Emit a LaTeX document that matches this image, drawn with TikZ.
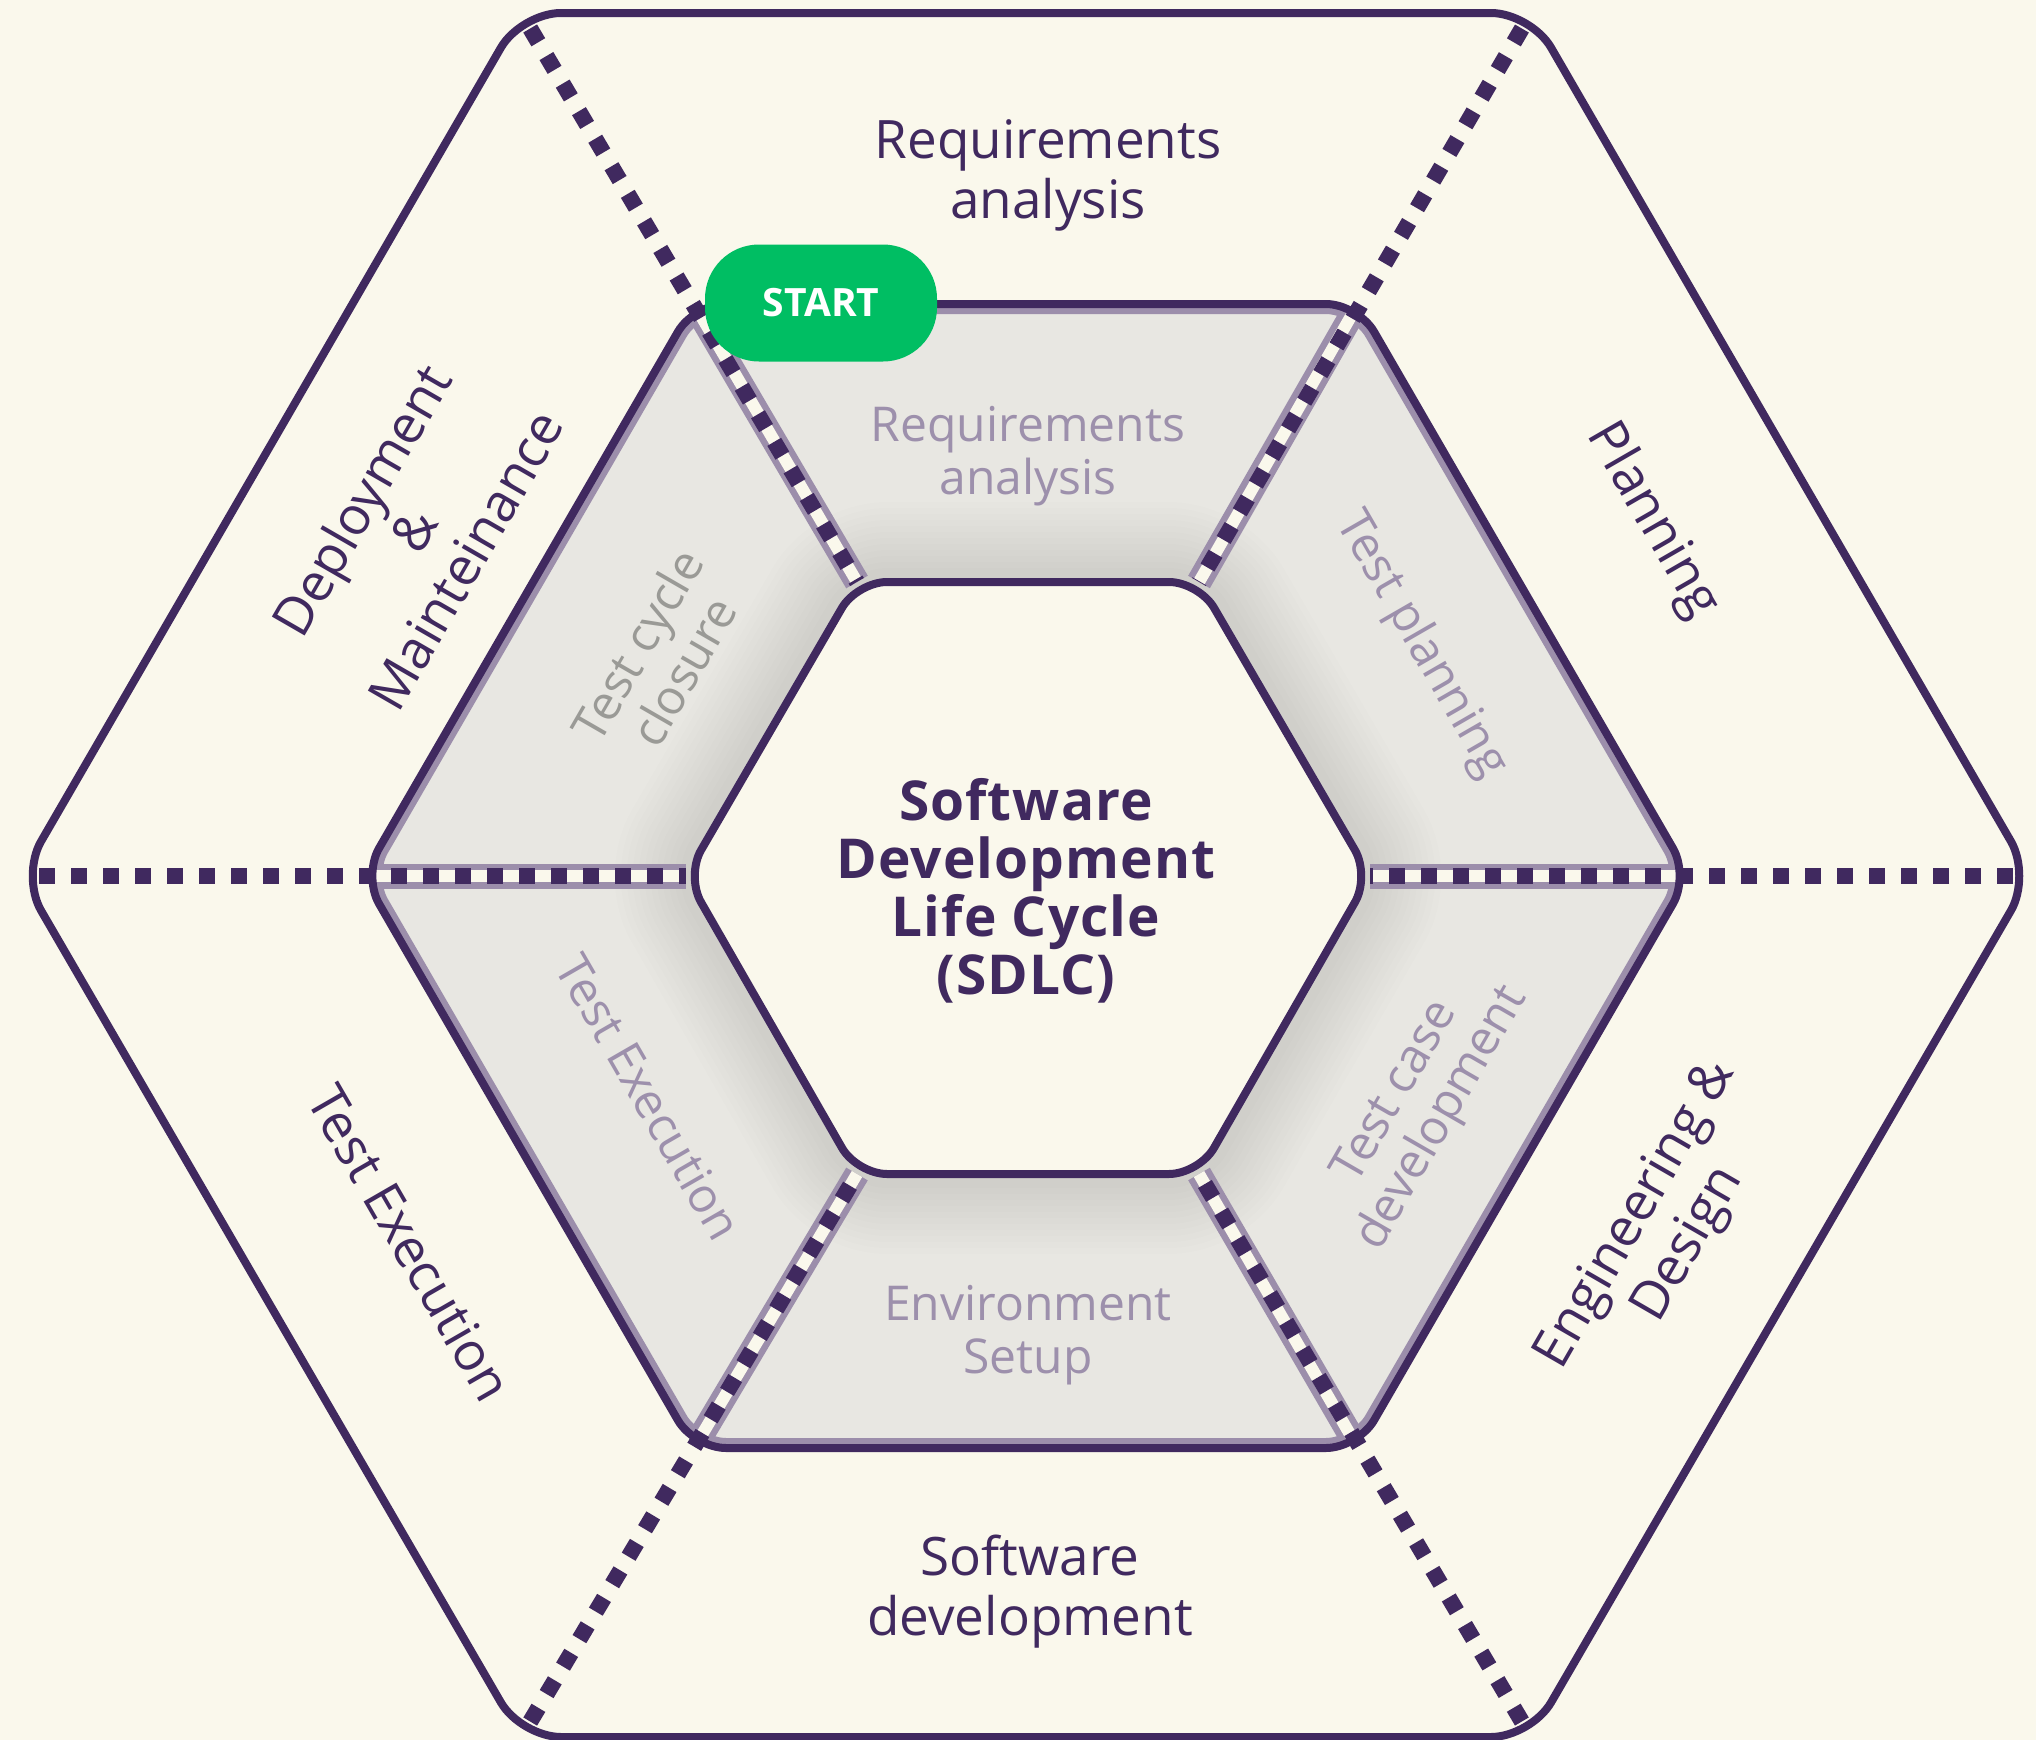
\documentclass[tikz,border=0pt]{standalone}
\usepackage{fontspec}
\setmainfont{Open Sans}
\usetikzlibrary{calc}

\definecolor{ink}{HTML}{40295F}
\definecolor{paper}{HTML}{FAF8EC}
\definecolor{tile}{HTML}{E8E7E2}
\definecolor{tileedge}{HTML}{9C8EAB}
\definecolor{tiletext}{HTML}{9D90AC}
\definecolor{greytext}{HTML}{9A9A96}
\definecolor{go}{HTML}{00BE63}

\begin{document}
\begin{tikzpicture}[x=0.5pt,y=-0.5pt,
  outerlab/.style={text=ink, align=center, inner sep=0pt, font=\fontsize{26.5}{30}\selectfont},
  tilelab/.style={text=tiletext, align=center, inner sep=0pt, font=\fontsize{24}{26.5}\selectfont},
  centerlab/.style={text=ink, align=center, inner sep=0pt, font=\bfseries\fontsize{27.5}{29}\selectfont\addfontfeature{LetterSpace=2}},
  spokeband/.style={draw=tileedge, line width=12.5pt},
  spokegap/.style={draw=paper, line width=6pt},
  spokedots/.style={draw=ink, line width=8pt, dash pattern=on 8pt off 8pt},
  hexedge/.style={draw=ink, line width=4pt},
  startpill/.style={fill=go, text=white, rounded corners=27pt, minimum width=116pt, minimum height=58.5pt, inner sep=0pt, font=\bfseries\fontsize{19.5}{21}\selectfont}
]
\fill[paper] (0,0) rectangle (2036,1740);
\useasboundingbox (0,0) rectangle (2036,1740);

% hexagon corners: outer ring, tile ring, core
\coordinate (O0) at (2031,876);
\coordinate (O1) at (1531,13);
\coordinate (O2) at (521,13);
\coordinate (O3) at (21,876);
\coordinate (O4) at (521,1737);
\coordinate (O5) at (1531,1737);
\coordinate (Om) at ($(O0)!0.5!(O1)$);

\coordinate (M0) at (1689,876);
\coordinate (M1) at (1358,304);
\coordinate (M2) at (694,304);
\coordinate (M3) at (363,876);
\coordinate (M4) at (694,1448);
\coordinate (M5) at (1358,1448);
\coordinate (Mm) at ($(M0)!0.5!(M1)$);

\coordinate (I0) at (1370,876);
\coordinate (I1) at (1199,582);
\coordinate (I2) at (857,582);
\coordinate (I3) at (686,876);
\coordinate (I4) at (857,1174);
\coordinate (I5) at (1199,1174);
\coordinate (Im) at ($(I0)!0.5!(I1)$);

% outer ring
\draw[hexedge, fill=paper, rounded corners=20pt]
  (Om) -- (O1) -- (O2) -- (O3) -- (O4) -- (O5) -- (O0) -- cycle;

% tile ring
\fill[tile, rounded corners=16pt]
  (Mm) -- (M1) -- (M2) -- (M3) -- (M4) -- (M5) -- (M0) -- cycle;

% soft shade around the core
\foreach \w in {80,74,...,14}{
  \draw[black, opacity=0.006, line width=\w pt, rounded corners=15pt]
    (Im) -- (I1) -- (I2) -- (I3) -- (I4) -- (I5) -- (I0) -- cycle;
}

\begin{scope}
  \clip[rounded corners=16pt]
    (Mm) -- (M1) -- (M2) -- (M3) -- (M4) -- (M5) -- (M0) -- cycle;
  \draw[tileedge, line width=10pt, rounded corners=16pt]
    (Mm) -- (M1) -- (M2) -- (M3) -- (M4) -- (M5) -- (M0) -- cycle;
  \foreach \i in {0,...,5}{
    \draw[spokeband] (M\i) -- (I\i);
    \draw[spokegap] (M\i) -- (I\i);
  }
\end{scope}

% dotted spokes
\foreach \i in {0,...,5}{
  \draw[spokedots] ($(O\i)!9pt!(I\i)$) -- (I\i);
}

\draw[hexedge, rounded corners=16pt]
  (Mm) -- (M1) -- (M2) -- (M3) -- (M4) -- (M5) -- (M0) -- cycle;

% core
\draw[hexedge, fill=paper, rounded corners=15pt]
  (Im) -- (I1) -- (I2) -- (I3) -- (I4) -- (I5) -- (I0) -- cycle;

\node[startpill] (start) at (821,303) {START};

\node[centerlab] (sdlc) at (1026,891) {Software\\Development\\Life Cycle\\(SDLC)};

% outer phases
\node[outerlab] (req) at (1048,175) {Requirements\\analysis};
\node[outerlab, rotate=-60] (plan) at (1652,521) {Planning};
\node[outerlab, rotate=60] (eng) at (1663,1230) {Engineering \&\\Design};
\node[outerlab] (dev) at (1030,1592) {Software\\development};
\node[outerlab, rotate=-60] (exec) at (410,1243) {Test Execution};
\node[outerlab, rotate=60] (deploy) at (413,530) {Deployment\\\&\\Mainteinance};

% testing phases
\node[tilelab] (treq) at (1028,456) {Requirements\\analysis};
\node[tilelab, rotate=-60] (tplan) at (1421,645) {Test planning};
\node[tilelab, rotate=60] (tcase) at (1420,1106) {Test case\\development};
\node[tilelab] (tenv) at (1028,1335) {Environment\\Setup};
\node[tilelab, rotate=-60] (texec) at (649,1097) {Test Execution};
\node[tilelab, rotate=60, text=greytext] (tclose) at (660,658) {Test cycle\\closure};
\end{tikzpicture}
\end{document}
